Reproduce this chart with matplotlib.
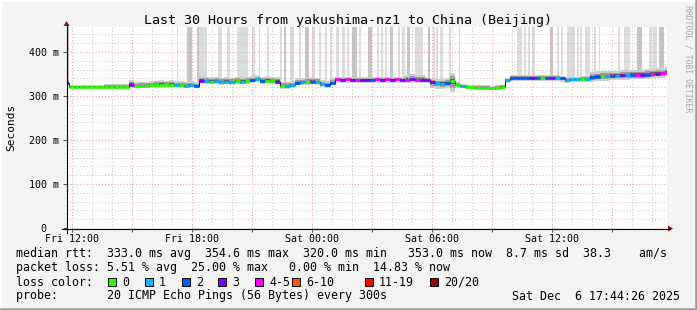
import numpy as np
import matplotlib
matplotlib.use("Agg")
import matplotlib.pyplot as plt
from matplotlib.lines import Line2D
from matplotlib.patches import Rectangle, Polygon

# ---------------- data ----------------
start_h = 11.77          # hours since Fri 00:00 at left edge
step_h = 0.25            # 15-minute samples

median_ms = [
    330, 321, 321, 321, 321, 321, 321, 321, 321, 321,
    321, 321, 321, 326, 322, 323, 323, 324, 325, 326,
    325, 326, 324, 324, 323, 324, 322, 335, 334, 333,
    334, 332, 333, 332, 334, 333, 334, 336, 338, 334,
    335, 334, 333, 323, 323, 324, 330, 331, 332, 333,
    332, 327, 324, 330, 338, 337, 338, 337, 337, 337,
    337, 337, 338, 337, 338, 337, 338, 337, 337, 338,
    337, 337, 337, 331, 329, 328, 330, 334, 326, 323,
    321, 320, 319, 319, 319, 318, 319, 321, 336, 341,
    342, 342, 342, 341, 342, 341, 342, 342, 341, 340,
    337, 338, 338, 339, 339, 343, 344, 345, 345, 346,
    346, 347, 347, 348, 348, 348, 349, 350, 351, 352,
    353]

loss_idx = [
    2, 0, 0, 0, 0, 0, 0, 0, 0, 0,
    0, 0, 0, 3, 0, 0, 0, 0, 0, 0,
    0, 0, 1, 0, 1, 1, 2, 3, 1, 0,
    1, 1, 1, 1, 0, 1, 0, 2, 1, 2,
    0, 0, 3, 0, 1, 1, 2, 1, 0, 2,
    1, 1, 2, 2, 4, 3, 4, 3, 4, 3,
    3, 2, 4, 3, 4, 3, 4, 3, 4, 3,
    4, 3, 3, 3, 1, 1, 2, 0, 0, 1,
    0, 0, 0, 0, 0, 0, 0, 0, 1, 2,
    2, 2, 2, 3, 2, 0, 2, 3, 1, 2,
    1, 1, 1, 0, 1, 2, 2, 0, 1, 2,
    1, 3, 1, 2, 4, 3, 2, 4, 3, 4,
    4]

smoke_lo = [
    6, 2, 2, 2, 2, 2, 2, 2, 2, 2,
    2, 2, 2, 4, 4, 4, 4, 4, 4, 4,
    4, 4, 4, 4, 4, 4, 4, 6, 6, 6,
    6, 6, 6, 6, 6, 6, 6, 6, 6, 6,
    6, 6, 6, 6, 6, 6, 6, 6, 6, 6,
    6, 6, 6, 6, 8, 8, 8, 8, 8, 8,
    8, 8, 8, 8, 8, 8, 8, 8, 8, 8,
    8, 8, 8, 12, 12, 12, 12, 25, 4, 4,
    4, 4, 4, 4, 4, 4, 4, 4, 7, 7,
    7, 7, 7, 7, 7, 7, 7, 7, 7, 7,
    7, 7, 7, 7, 7, 10, 10, 10, 10, 10,
    10, 10, 10, 10, 10, 10, 10, 10, 10, 10,
    10]

smoke_hi = [
    8, 3, 3, 3, 3, 3, 3, 3, 6, 6,
    6, 6, 6, 10, 10, 10, 10, 10, 10, 10,
    10, 10, 10, 10, 10, 10, 10, 10, 10, 10,
    10, 10, 10, 10, 10, 10, 10, 10, 10, 10,
    10, 10, 10, 10, 10, 10, 10, 10, 10, 10,
    10, 10, 10, 10, 6, 6, 6, 6, 6, 6,
    6, 6, 6, 6, 6, 6, 6, 6, 12, 12,
    12, 12, 6, 10, 10, 10, 10, 18, 5, 5,
    5, 5, 5, 5, 5, 5, 5, 5, 6, 6,
    6, 6, 6, 6, 6, 6, 6, 6, 6, 6,
    6, 6, 6, 6, 6, 12, 12, 12, 12, 12,
    12, 12, 12, 12, 12, 12, 12, 12, 12, 12,
    12]

# high-latency / loss smoke bars (hours since Fri 00:00), tone 0 light, 1 darker
spike_start = [11.82, 17.27, 17.77, 18.27, 18.37, 19.32, 19.77, 20.27, 21.02, 21.37,
               21.77, 22.42, 22.62, 22.92, 23.37, 23.67, 24.02, 24.37, 24.67, 24.92,
               25.22, 25.52, 25.77, 26.02, 26.37, 26.82, 27.27, 27.47, 27.67, 27.92,
               28.32, 28.52, 28.77, 29.17, 29.32, 29.82, 30.07, 30.22, 30.42, 30.87,
               31.37, 34.27, 34.62, 34.82, 35.02, 35.92, 36.27, 36.47, 36.77, 37.27,
               37.42, 37.67, 38.12, 38.37, 39.32, 39.62, 40.27, 40.87, 41.07, 41.37]
spike_end = [11.87, 17.32, 18.02, 18.37, 18.77, 19.52, 19.92, 20.82, 21.17, 21.42,
             21.87, 22.52, 22.72, 23.12, 23.47, 23.87, 24.17, 24.47, 24.77, 25.02,
             25.37, 25.67, 25.87, 26.27, 26.47, 27.02, 27.37, 27.57, 27.77, 28.07,
             28.42, 28.67, 28.92, 29.32, 29.57, 29.92, 30.17, 30.32, 30.57, 30.97,
             31.42, 34.52, 34.72, 34.92, 35.17, 36.07, 36.37, 36.57, 37.17, 37.37,
             37.52, 37.92, 38.22, 38.42, 39.42, 39.92, 40.52, 41.02, 41.27, 41.62]
spike_tone = [1, 0, 1, 1, 0, 0, 0, 0, 0, 0,
              0, 0, 1, 0, 0, 1, 0, 0, 0, 0,
              0, 0, 0, 1, 0, 1, 0, 0, 0, 1,
              0, 0, 1, 0, 0, 1, 0, 0, 0, 0,
              0, 0, 0, 0, 0, 1, 0, 0, 0, 0,
              0, 0, 0, 0, 0, 0, 1, 0, 0, 1]

loss_colors = ['#26ff00', '#00b8ff', '#0059ff', '#7e00ff', '#ff00ff', '#ff5500', '#ff0000', '#a10000']
loss_labels = ['0', '1', '2', '3', '4-5', '6-10', '11-19', '20/20']

xtick_pos = [12, 15, 18, 21, 24, 27, 30, 33, 36, 39]
xtick_labels = ['Fri 12:00', '', 'Fri 18:00', '', 'Sat 00:00', '', 'Sat 06:00', '', 'Sat 12:00', '']
ytick_pos = [0, 100, 200, 300, 400]
ytick_labels = ['0  ', '100 m', '200 m', '300 m', '400 m']

title = "Last 30 Hours from yakushima-nz1 to China (Beijing)"
legend_lines = [
    "median rtt:  333.0 ms avg  354.6 ms max  320.0 ms min   353.0 ms now  8.7 ms sd  38.3    am/s",
    "packet loss: 5.51 % avg  25.00 % max   0.00 % min  14.83 % now",
    "loss color:",
    "probe:       20 ICMP Echo Pings (56 Bytes) every 300s",
]
stamp = "Sat Dec  6 17:44:26 2025"

# ---------------- figure ----------------
W, H = 697, 310
MONO = 'DejaVu Sans Mono'
plt.rcParams['font.family'] = MONO

fig = plt.figure(figsize=(W / 100, H / 100), dpi=100, facecolor='#f3f3f3')

def fx(x):
    return x / W

def fy(y):
    return 1 - y / H

AX_L, AX_R, AX_T, AX_B = 67, 667, 27, 228
ax = fig.add_axes([fx(AX_L), fy(AX_B), (AX_R - AX_L) / W, (AX_B - AX_T) / H])
ax.set_facecolor('white')
YTOP = 457
ax.set_xlim(start_h, start_h + 30)
ax.set_ylim(0, YTOP)
for s in ax.spines.values():
    s.set_visible(False)

t = start_h + step_h * np.arange(len(median_ms))
med = np.array(median_ms, float)
lo = np.array(smoke_lo, float)
hi = np.array(smoke_hi, float)

# tall smoke bars
sp_s = np.array(spike_start)
sp_e = np.array(spike_end)
base = np.interp(sp_s, t, med)
tone_col = ['#dcdcdc', '#c4c4c4']
ax.bar(sp_s, YTOP - base, width=sp_e - sp_s, bottom=base, align='edge',
       color=[tone_col[k] for k in spike_tone], linewidth=0, zorder=1)

# smoke bands
ax.fill_between(t, med - lo, med + hi, step='mid', color='#cfcfcf', lw=0, zorder=2)
ax.fill_between(t, med - lo * 0.6, med + hi * 0.6, step='mid', color='#9a9a9a', lw=0, zorder=2)
ax.fill_between(t, med - lo * 0.3, med + hi * 0.3, step='mid', color='#5a5a5a', lw=0, zorder=2)

# grid
ax.set_xticks(xtick_pos)
ax.set_xticklabels(xtick_labels)
ax.set_xticks(np.arange(12, 42, 1), minor=True)
ax.set_yticks(ytick_pos)
ax.set_yticklabels(ytick_labels)
ax.set_yticks(np.arange(0, 460, 20), minor=True)
ax.grid(which='minor', color='#c6c6c6', linestyle=(0, (1, 2)), linewidth=0.75, zorder=3)
ax.grid(which='major', color='#eaa0a0', linestyle=(0, (1, 2)), linewidth=0.75, zorder=3)
ax.set_axisbelow(False)
ax.tick_params(axis='x', which='major', length=3, width=0.75, color='#505050', pad=1.5,
               labelsize=7.2, labelcolor='black')
ax.tick_params(axis='y', which='major', length=3, width=0.75, color='#505050', pad=3,
               labelsize=7.2, labelcolor='black')
ax.tick_params(which='minor', length=0)
for lab in ax.get_xticklabels() + ax.get_yticklabels():
    lab.set_fontfamily(MONO)

# median line, colored by loss
ax.step(t, med, where='mid', color='#202020', lw=0.8, zorder=4)
ax.hlines(med, t - step_h / 2, t + step_h / 2, colors=[loss_colors[k] for k in loss_idx],
          linewidth=2.0, zorder=5)

# axis lines with arrows
fig.add_artist(Line2D([fx(62), fx(670)], [fy(228.5), fy(228.5)], color='black', lw=0.8))
fig.add_artist(Line2D([fx(66.5), fx(66.5)], [fy(233), fy(24)], color='black', lw=0.8))
fig.add_artist(Polygon([[fx(668), fy(225.5)], [fx(668), fy(231.5)], [fx(673), fy(228.5)]],
                       closed=True, color='#8b1a1a', lw=0))
fig.add_artist(Polygon([[fx(63.5), fy(26)], [fx(69.5), fy(26)], [fx(66.5), fy(21)]],
                       closed=True, color='#8b1a1a', lw=0))

# title / labels
fig.text(fx(347.5), fy(24), title, ha='center', va='baseline', fontsize=9.6, family=MONO)
fig.text(fx(11), fy(127.5), 'Seconds', rotation=90, ha='center', va='center',
         fontsize=8.0, family=MONO)
fig.text(fx(688), fy(5), 'RRDTOOL / TOBI OETIKER', rotation=270, ha='center', va='top',
         fontsize=5.9, family=MONO, color='#a8a8a8')

# legend
LEG_FS = 8.33
base_y = [257.5, 271.5, 285.5, 299.5]
for line, yb in zip(legend_lines, base_y):
    fig.text(fx(16), fy(yb), line, ha='left', va='baseline', fontsize=LEG_FS, family=MONO)
fig.text(fx(680), fy(299.5), stamp, ha='right', va='baseline', fontsize=LEG_FS, family=MONO)

sq_x = [108, 145, 182, 218, 255, 292, 365, 430]
for k, (c, lab) in enumerate(zip(loss_colors, loss_labels)):
    fig.add_artist(Rectangle((fx(sq_x[k]), fy(286)), 8 / W, 8 / H, facecolor=c,
                             edgecolor='black', lw=0.7))
    fig.text(fx(sq_x[k] + 14), fy(285.5), lab, ha='left', va='baseline', fontsize=LEG_FS,
             family=MONO)

# 3D frame
fig.add_artist(Line2D([0, 1], [fy(0.5), fy(0.5)], color='white', lw=1.5))
fig.add_artist(Line2D([fx(0.5), fx(0.5)], [0, 1], color='white', lw=1.5))
fig.add_artist(Line2D([0, 1], [fy(308.5), fy(308.5)], color='#9c9c9c', lw=1.8))
fig.add_artist(Line2D([fx(695.5), fx(695.5)], [0, 1], color='#9c9c9c', lw=1.8))

fig.savefig('out.png', dpi=100, facecolor=fig.get_facecolor())
